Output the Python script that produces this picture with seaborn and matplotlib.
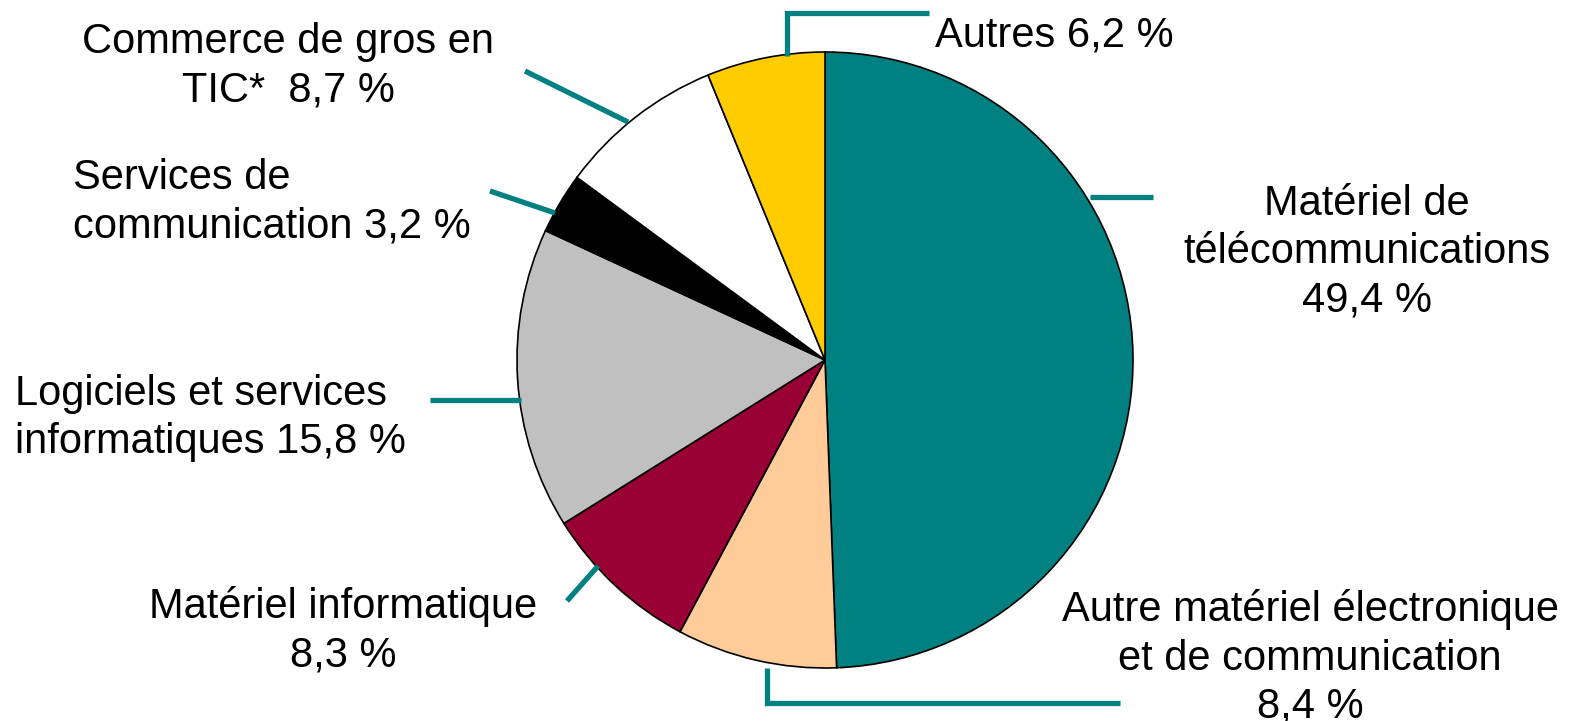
import matplotlib
matplotlib.use("Agg")
import matplotlib.pyplot as plt
import seaborn as sns

sns.set_theme(style="white")
plt.rcParams['font.family'] = ['Liberation Sans', 'DejaVu Sans']

categories = ["Matériel de\ntélécommunications\n49,4 %",
              "Autre matériel électronique\net de communication\n8,4 %",
              "Matériel informatique\n8,3 %",
              "Logiciels et services\ninformatiques 15,8 %",
              "Services de\ncommunication 3,2 %",
              "Commerce de gros en\nTIC*  8,7 %",
              "Autres 6,2 %"]
values = [49.4, 8.4, 8.3, 15.8, 3.2, 8.7, 6.2]
colors = ["#008080", "#FFCC99", "#990033", "#C0C0C0", "#000000", "#FFFFFF", "#FFCC00"]

W, H = 1569, 721
fig = plt.figure(figsize=(W / 100, H / 100), dpi=100)
cx, cy, r = 825, 360, 308
ax = fig.add_axes([(cx - r) / W, (H - cy - r) / H, 2 * r / W, 2 * r / H])
ax.pie(values, colors=colors, startangle=90, counterclock=False, radius=1,
       wedgeprops=dict(edgecolor="black", linewidth=1.2))
ax.set_xlim(-1, 1)
ax.set_ylim(-1, 1)
ax.set_aspect("equal")
ax.axis("off")

def P(px, py):
    return ((px - cx) / r, (cy - py) / r)

teal = "#008080"
leaders = [
    [(1090, 197), (1153, 197)],
    [(767, 668), (767, 703), (1120, 703)],
    [(598, 566), (567, 601)],
    [(521, 400), (430, 400)],
    [(555, 213), (490, 191)],
    [(628, 122), (525, 71)],
    [(787, 56), (787, 13), (929, 13)],
]
for pts in leaders:
    xs, ys = zip(*[P(*p) for p in pts])
    ax.plot(xs, ys, color=teal, lw=3.8, clip_on=False, solid_capstyle="butt",
            solid_joinstyle="miter")

# label positions (pixel), alignment
labels_pos = [
    (1367, 252, "center"),
    (1310, 658, "center"),
    (343, 631, "center"),
    (15, 418, "left"),
    (73, 202, "left"),
    (288, 66, "center"),
    (935, 35, "left"),
]
for text, (px, py, ha) in zip(categories, labels_pos):
    fig.text(px / W, 1 - py / H, text, ha=ha, va="center", fontsize=30,
             color="black", linespacing=1.26, multialignment=ha)

fig.savefig("out.png", dpi=100)
